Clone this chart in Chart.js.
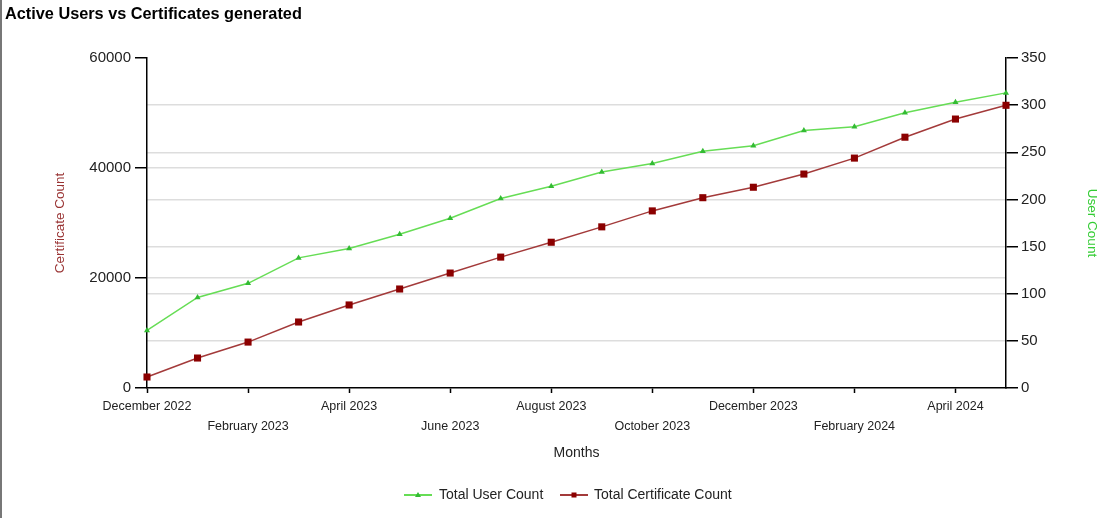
<!DOCTYPE html>
<html>
<head>
<meta charset="utf-8">
<script src="https://cdn.jsdelivr.net/npm/chart.js@4/dist/chart.umd.min.js"></script>
<style>
  html, body { margin: 0; padding: 0; background: #fff; }
  #wrap { position: relative; width: 1112px; height: 518px; overflow: hidden; }
  #title { position: absolute; left: 5px; top: 4px; font: bold 16.3px "Liberation Sans", Arial, sans-serif; color: #000; }
  #lborder { position: absolute; left: 0; top: 0; width: 2px; height: 518px; background: #777; }
  canvas { position: absolute; left: 0; top: 0; }
</style>
</head>
<body>
<div id="wrap">
  <canvas id="c" width="1112" height="518"></canvas>
  <div id="title">Active Users vs Certificates generated</div>
  <div id="lborder"></div>
</div>
<script>
const months = ["December 2022","January 2023","February 2023","March 2023","April 2023","May 2023","June 2023","July 2023","August 2023","September 2023","October 2023","November 2023","December 2023","January 2024","February 2024","March 2024","April 2024","May 2024"];
const userCounts = [61, 96, 111, 138, 148, 163, 180, 201, 214, 229, 238, 251, 257, 273, 277, 292, 303, 313];
const certificateCounts = [2000, 5450, 8350, 12000, 15100, 18000, 20900, 23800, 26500, 29300, 32200, 34600, 36500, 38900, 41800, 45600, 48900, 51400];
const certTicks = [0, 20000, 40000, 60000];
const userTicks = [0, 50, 100, 150, 200, 250, 300, 350];

const FONT = '"Liberation Sans", Arial, sans-serif';
const GREEN_LINE = '#66dd55';
const GREEN_PT = '#33bb33';
const RED_LINE = '#a33a3a';
const RED_PT = '#8b0000';

const legendPlugin = {
  id: 'customLegend',
  afterDraw(chart) {
    const ctx = chart.ctx;
    ctx.save();
    const y = 495;
    const items = [
      {x1: 404, x2: 432, tx: 439, color: GREEN_LINE, pt: GREEN_PT, shape: 'tri', text: 'Total User Count'},
      {x1: 560, x2: 588, tx: 594, color: RED_LINE, pt: RED_PT, shape: 'rect', text: 'Total Certificate Count'}
    ];
    items.forEach(it => {
      ctx.strokeStyle = it.color;
      ctx.lineWidth = 2;
      ctx.beginPath(); ctx.moveTo(it.x1, y); ctx.lineTo(it.x2, y); ctx.stroke();
      const cx = (it.x1 + it.x2) / 2;
      ctx.fillStyle = it.pt;
      if (it.shape === 'rect') {
        ctx.fillRect(cx - 2.5, y - 2.5, 5, 5);
      } else {
        ctx.beginPath(); ctx.moveTo(cx, y - 3); ctx.lineTo(cx + 3, y + 2); ctx.lineTo(cx - 3, y + 2); ctx.closePath(); ctx.fill();
      }
      ctx.fillStyle = '#222';
      ctx.font = '14px ' + FONT;
      ctx.textBaseline = 'middle';
      ctx.textAlign = 'left';
      ctx.fillText(it.text, it.tx, y);
    });
    ctx.restore();
  }
};

new Chart(document.getElementById('c'), {
  type: 'line',
  data: {
    labels: months,
    datasets: [
      {
        label: 'Total User Count',
        data: userCounts,
        yAxisID: 'y1',
        borderColor: GREEN_LINE,
        backgroundColor: GREEN_PT,
        pointBackgroundColor: GREEN_PT,
        pointBorderColor: GREEN_PT,
        pointStyle: 'triangle',
        pointRadius: 3.5,
        pointBorderWidth: 0,
        borderWidth: 1.5,
        tension: 0
      },
      {
        label: 'Total Certificate Count',
        data: certificateCounts,
        yAxisID: 'y',
        borderColor: RED_LINE,
        backgroundColor: RED_PT,
        pointBackgroundColor: RED_PT,
        pointBorderColor: RED_PT,
        pointStyle: 'rect',
        pointRadius: 5,
        pointBorderWidth: 0,
        borderWidth: 1.5,
        tension: 0
      }
    ]
  },
  options: {
    responsive: false,
    animation: false,
    layout: { padding: { top: 58, left: 0, right: 0, bottom: 0 } },
    plugins: {
      legend: { display: false },
      tooltip: { enabled: false },
      title: { display: false }
    },
    scales: {
      x: {
        type: 'category',
        offset: false,
        afterFit(scale) { scale.height = 130; },
        border: { display: true, color: '#000', width: 1.5 },
        grid: {
          drawOnChartArea: false,
          drawTicks: true,
          tickLength: 5,
          tickColor: ctx => (ctx.index % 2 === 0 ? '#000' : 'rgba(0,0,0,0)'),
          tickWidth: 1.5
        },
        ticks: {
          autoSkip: false,
          maxRotation: 0,
          minRotation: 0,
          padding: 4,
          color: '#222',
          font: { family: FONT, size: 12.5, lineHeight: 1.6 },
          callback(value, index) {
            const lbl = this.getLabelForValue(value);
            if (index % 4 === 0) return lbl;
            if (index % 4 === 2) return ['', lbl];
            return '';
          }
        },
        title: {
          display: true,
          text: 'Months',
          color: '#222',
          font: { family: FONT, size: 14 },
          padding: { top: 0, bottom: 56 }
        }
      },
      y: {
        position: 'left',
        min: 0,
        max: 60000,
        afterFit(scale) { scale.width = 147; },
        afterBuildTicks(scale) { scale.ticks = certTicks.map(v => ({ value: v })); },
        border: { display: true, color: '#000', width: 1.5 },
        grid: {
          color: ctx => (ctx.tick && (ctx.tick.value === 60000 || ctx.tick.value === 0) ? 'rgba(0,0,0,0)' : '#dddddd'),
          lineWidth: 1.5,
          tickColor: '#000',
          tickLength: 12,
          tickWidth: 1.5
        },
        ticks: {
          padding: 4,
          color: '#222',
          font: { family: FONT, size: 15 },
          callback: v => String(v)
        },
        title: {
          display: true,
          text: 'Certificate Count',
          color: '#993333',
          font: { family: FONT, size: 13.5 },
          padding: { top: 52, bottom: 0 }
        }
      },
      y1: {
        position: 'right',
        min: 0,
        max: 350,
        afterFit(scale) { scale.width = 106; },
        afterBuildTicks(scale) { scale.ticks = userTicks.map(v => ({ value: v })); },
        border: { display: true, color: '#000', width: 1.5 },
        grid: {
          color: ctx => (ctx.tick && (ctx.tick.value === 350 || ctx.tick.value === 0) ? 'rgba(0,0,0,0)' : '#dddddd'),
          lineWidth: 1.5,
          tickColor: '#000',
          tickLength: 12,
          tickWidth: 1.5
        },
        ticks: {
          padding: 3,
          color: '#222',
          font: { family: FONT, size: 15 },
          callback: v => String(v)
        },
        title: {
          display: true,
          text: 'User Count',
          color: '#33cc33',
          font: { family: FONT, size: 13.5 },
          padding: { top: 12, bottom: 0 }
        }
      }
    }
  },
  plugins: [legendPlugin]
});
</script>
</body>
</html>
